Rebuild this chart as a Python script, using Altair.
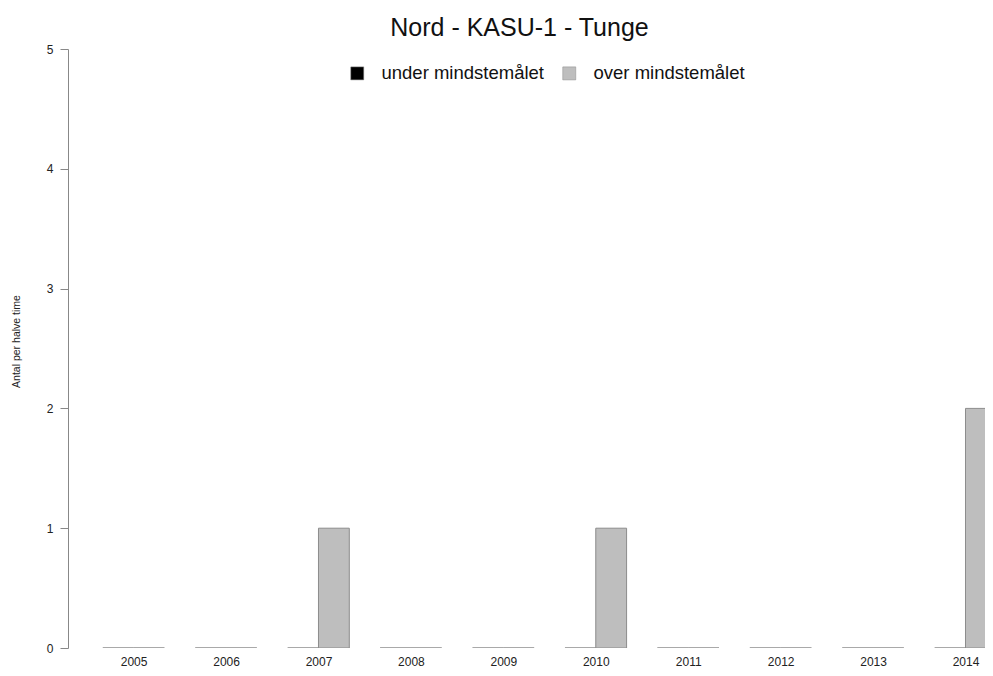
import altair as alt
import pandas as pd

years = [2005, 2006, 2007, 2008, 2009, 2010, 2011, 2012, 2013, 2014]
under_values = [0, 0, 0, 0, 0, 0, 0, 0, 0, 0]
over_values = [0, 0, 1, 0, 0, 1, 0, 0, 0, 2]
series_names = ["under mindstemålet", "over mindstemålet"]
y_ticks = [0, 1, 2, 3, 4, 5]

rows = []
for y, u, o in zip(years, under_values, over_values):
    rows.append({"year": y, "series": series_names[0], "value": u, "slot": 0})
    rows.append({"year": y, "series": series_names[1], "value": o, "slot": 1})
df = pd.DataFrame(rows)

FONT = "Liberation Sans"

bars = alt.Chart(df).transform_calculate(
    x0="datum.year + (datum.slot - 1) / 3",
    x1="datum.year + datum.slot / 3",
    base="0",
).mark_bar(clip=True, stroke="#8c8c8c", strokeWidth=1).encode(
    x=alt.X("x0:Q",
            scale=alt.Scale(domain=[2004 + 1/3, 2014.211], nice=False, zero=False),
            axis=alt.Axis(values=years, format="d", title=None, domain=False,
                          ticks=False, grid=False, labelFontSize=12,
                          labelPadding=8, labelColor="#222", labelFont=FONT)),
    x2="x1:Q",
    y=alt.Y("value:Q", stack=None,
            scale=alt.Scale(domain=[0, 5], nice=False),
            axis=alt.Axis(values=y_ticks, title="Antal per halve time", grid=False,
                          offset=4, tickSize=8, domainColor="#888", tickColor="#888",
                          labelFontSize=12, labelPadding=7, labelColor="#222",
                          labelFont=FONT, titleFont=FONT, titleFontSize=10.5,
                          titleFontWeight="normal", titlePadding=25,
                          titleY=292, titleColor="#222")),
    y2="base:Q",
    fill=alt.Fill("series:N",
                  scale=alt.Scale(domain=series_names, range=["#000000", "#bebebe"]),
                  legend=alt.Legend(title=None, orient="none", direction="horizontal",
                                    legendX=276, legendY=15, symbolType="square",
                                    symbolSize=169, symbolStrokeColor="#888",
                                    symbolStrokeWidth=0.5, labelFontSize=18.5,
                                    labelFont=FONT, labelColor="#111",
                                    labelOffset=15, columnPadding=16,
                                    labelLimit=400)),
)

chart = bars.properties(
    width=913,
    height=599,
    title=alt.TitleParams("Nord - KASU-1 - Tunge", font=FONT, fontSize=25,
                          fontWeight="normal", color="#111", anchor="middle",
                          dx=-9, offset=2),
    autosize=alt.AutoSizeParams(type="none"),
    padding={"left": 64, "top": 41, "right": 0, "bottom": 20},
).configure_view(stroke=None)

chart.save("out.html", embed_options={"renderer": "svg", "actions": False})
